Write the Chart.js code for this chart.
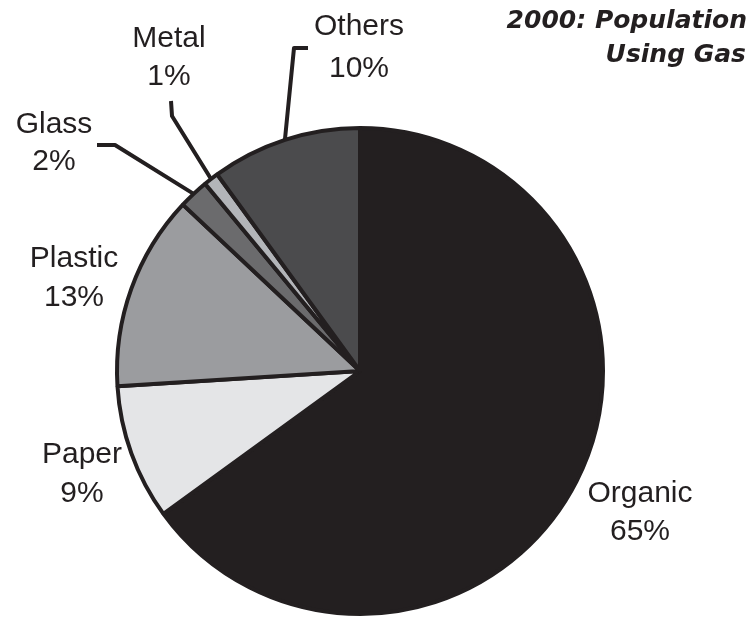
<!DOCTYPE html>
<html>
<head>
<meta charset="utf-8">
<script src="https://cdn.jsdelivr.net/npm/chart.js@4"></script>
<style>
  html, body { margin: 0; padding: 0; background: #fff; }
  #wrap { width: 751px; height: 618px; position: relative; }
</style>
</head>
<body>
<div id="wrap"><canvas id="chart"></canvas></div>
<script>
const categories = ['Organic', 'Paper', 'Plastic', 'Glass', 'Metal', 'Others'];
const shares = [65, 9, 13, 2, 1, 10];
const sliceColors = ['#231f20', '#e4e5e7', '#9b9c9f', '#6b6b6d', '#b3b5b9', '#4b4b4d'];
const titleLines = ['2000: Population', 'Using Gas'];

// label placement (annotation layout) and leader elbows
const labelLayout = {
  Organic: { x: 640, y: 502, gap: 38 },
  Paper:   { x: 82,  y: 463, gap: 39 },
  Plastic: { x: 74,  y: 267, gap: 39 },
  Glass:   { x: 54,  y: 133, gap: 37, leader: [[97, 145], [115, 145]] },
  Metal:   { x: 169, y: 47,  gap: 38, leader: [[171, 101], [172, 116]] },
  Others:  { x: 359, y: 35,  gap: 42, leader: [[308, 48], [294, 48]] }
};

const ink = '#231f20';

const labelPlugin = {
  id: 'pieLabels',
  afterDatasetsDraw(chart) {
    const ctx = chart.ctx;
    const meta = chart.getDatasetMeta(0);
    ctx.save();
    meta.data.forEach((arc, i) => {
      const name = categories[i];
      const lay = labelLayout[name];
      const p = arc.getProps(['x', 'y', 'startAngle', 'endAngle', 'outerRadius'], true);
      const mid = (p.startAngle + p.endAngle) / 2;
      const ex = p.x + Math.cos(mid) * p.outerRadius;
      const ey = p.y + Math.sin(mid) * p.outerRadius;
      if (lay.leader) {
        ctx.beginPath();
        ctx.strokeStyle = ink;
        ctx.lineWidth = 4;
        ctx.lineJoin = 'round';
        ctx.moveTo(lay.leader[0][0], lay.leader[0][1]);
        for (let k = 1; k < lay.leader.length; k++) ctx.lineTo(lay.leader[k][0], lay.leader[k][1]);
        ctx.lineTo(ex, ey);
        ctx.stroke();
      }
      ctx.fillStyle = ink;
      ctx.font = '30px "Liberation Sans", Arial, sans-serif';
      ctx.textAlign = 'center';
      ctx.textBaseline = 'alphabetic';
      ctx.fillText(name, lay.x, lay.y);
      ctx.fillText(shares[i] + '%', lay.x, lay.y + lay.gap);
    });

    ctx.font = 'italic bold 25px "DejaVu Sans", sans-serif';
    ctx.textAlign = 'right';
    ctx.fillStyle = ink;
    ctx.fillText(titleLines[0], 747, 28);
    ctx.fillText(titleLines[1], 746, 62);
    ctx.restore();
  }
};

new Chart(document.getElementById('chart'), {
  type: 'pie',
  data: {
    labels: categories,
    datasets: [{
      data: shares,
      backgroundColor: sliceColors,
      borderColor: ink,
      borderWidth: 4
    }]
  },
  options: {
    responsive: true,
    maintainAspectRatio: false,
    animation: false,
    layout: { padding: { top: 126, bottom: 2, left: 0, right: 31 } },
    plugins: {
      legend: { display: false },
      tooltip: { enabled: false },
      title: { display: false }
    }
  },
  plugins: [labelPlugin]
});
</script>
</body>
</html>
